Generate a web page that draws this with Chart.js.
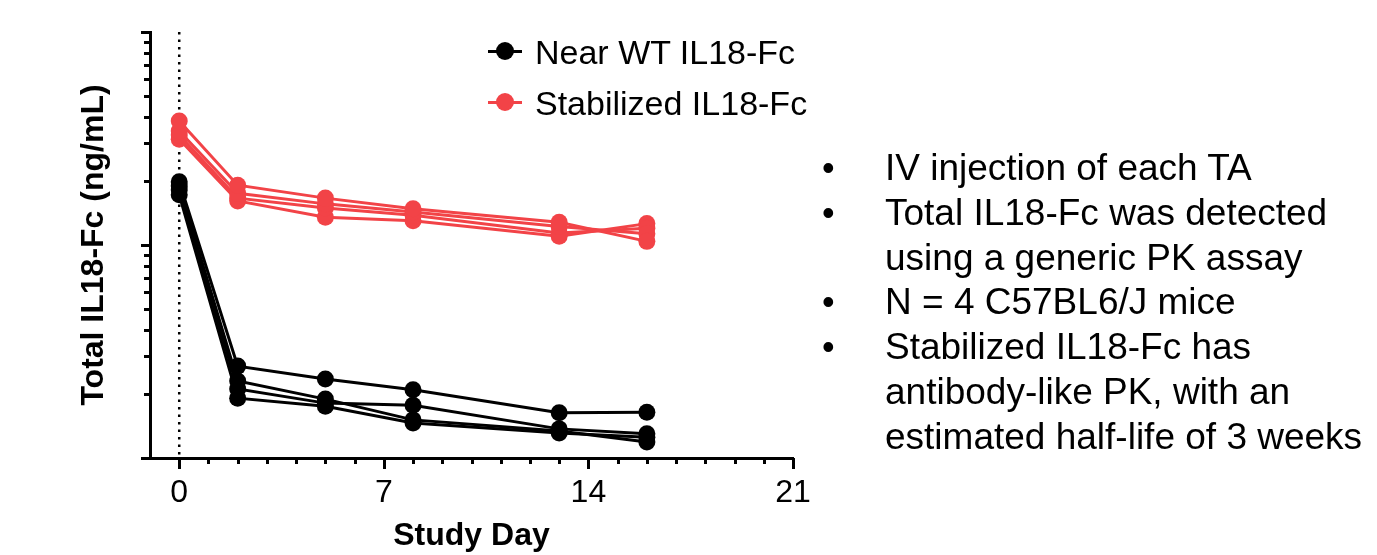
<!DOCTYPE html>
<html>
<head>
<meta charset="utf-8">
<script src="https://cdn.jsdelivr.net/npm/chart.js@4/dist/chart.umd.min.js"></script>
<style>
  body { margin: 0; background: #fff; font-family: "Liberation Sans", Arial, sans-serif; }
  #wrap { position: relative; width: 1377px; height: 555px; }
  #grafico { position: absolute; left: 0; top: 0; }
  .leyenda { position: absolute; left: 486px; font-size: 34px; line-height: 40px; color: #000; }
  .leyenda .linea { position: absolute; left: 2px; top: 18px; width: 34px; height: 3px; }
  .leyenda .punto { position: absolute; left: 10px; top: 10px; width: 18px; height: 18px; border-radius: 50%; }
  .leyenda .texto { position: absolute; left: 49px; top: 0; white-space: nowrap; }
  #notas { position: absolute; left: 822px; top: 146px; font-size: 37px; line-height: 44.8px; color: #000; }
  #notas .item { position: relative; padding-left: 63px; white-space: nowrap; }
  #notas .b { position: absolute; left: 0; top: 0; font-size: 36px; }
</style>
</head>
<body>
<div id="wrap">
  <canvas id="grafico" width="1377" height="555"></canvas>
  <div class="leyenda" style="top:32px">
    <span class="linea" style="background:#000"></span><span class="punto" style="background:#000"></span>
    <span class="texto">Near WT IL18-Fc</span>
  </div>
  <div class="leyenda" style="top:83px">
    <span class="linea" style="background:#f24347"></span><span class="punto" style="background:#f24347"></span>
    <span class="texto">Stabilized IL18-Fc</span>
  </div>
  <div id="notas">
    <div class="item"><span class="b">•</span>IV injection of each TA</div>
    <div class="item"><span class="b">•</span>Total IL18-Fc was detected<br>using a generic PK assay</div>
    <div class="item"><span class="b">•</span>N = 4 C57BL6/J mice</div>
    <div class="item"><span class="b">•</span>Stabilized IL18-Fc has<br>antibody-like PK, with an<br>estimated half-life of 3 weeks</div>
  </div>
</div>
<script>
// Datos (ng/mL) por raton
const dias = [0, 2, 5, 8, 13, 16];
const xTicks = [0, 7, 14, 21];

const nearWt1 = [19800, 2700, 2350, 2090, 1630, 1640];
const nearWt2 = [18900, 2300, 1890, 1510, 1340, 1190];
const nearWt3 = [18100, 2110, 1810, 1770, 1370, 1300];
const nearWt4 = [17200, 1910, 1750, 1460, 1310, 1250];

const estab1 = [38200, 19100, 16600, 14800, 12800, 10400];
const estab2 = [34300, 17500, 15600, 14300, 12200, 11300];
const estab3 = [32800, 16600, 14900, 13800, 11400, 12000];
const estab4 = [31400, 16100, 13500, 13000, 11000, 12600];

const NEGRO = '#000000';
const ROJO = '#f24347';

function serie(valores, color) {
    return {
        data: dias.map((d, i) => ({ x: d, y: valores[i] })),
        borderColor: color,
        backgroundColor: color,
        borderWidth: 3,
        pointRadius: 8.5,
        pointHoverRadius: 8.5,
        pointBorderWidth: 0,
        tension: 0
    };
}

// marcas de los ejes y linea punteada en el dia 0
const marcas = {
    id: 'marcas',
    beforeDatasetsDraw(chart) {
        const ctx = chart.ctx;
        const area = chart.chartArea;
        const x = chart.scales.x;
        const y = chart.scales.y;
        ctx.save();
        ctx.strokeStyle = '#000';
        // linea punteada
        const x0 = x.getPixelForValue(0);
        ctx.lineWidth = 2.5;
        ctx.setLineDash([2.5, 5]);
        ctx.beginPath();
        ctx.moveTo(x0, area.top);
        ctx.lineTo(x0, area.bottom);
        ctx.stroke();
        ctx.setLineDash([]);
        ctx.lineWidth = 3;
        // ticks eje y (log)
        for (let p = 3; p <= 5; p++) {
            for (let m = 1; m <= 9; m++) {
                const v = m * Math.pow(10, p);
                if (v > y.max) break;
                const py = Math.round(y.getPixelForValue(v)) + 0.5;
                const largo = m === 1 ? 9 : 6;
                ctx.beginPath();
                ctx.moveTo(area.left - largo, py);
                ctx.lineTo(area.left, py);
                ctx.stroke();
            }
        }
        // ticks eje x
        for (let d = 0; d <= 21; d++) {
            const px = Math.round(x.getPixelForValue(d)) + 0.5;
            const largo = xTicks.includes(d) ? 11 : 6;
            ctx.beginPath();
            ctx.moveTo(px, area.bottom);
            ctx.lineTo(px, area.bottom + largo);
            ctx.stroke();
        }
        ctx.restore();
    }
};

new Chart(document.getElementById('grafico'), {
    type: 'line',
    data: {
        datasets: [
            serie(nearWt1, NEGRO), serie(nearWt2, NEGRO), serie(nearWt3, NEGRO), serie(nearWt4, NEGRO),
            serie(estab1, ROJO), serie(estab2, ROJO), serie(estab3, ROJO), serie(estab4, ROJO)
        ]
    },
    options: {
        responsive: false,
        animation: false,
        layout: { padding: { top: 32, right: 584, bottom: 0, left: 0 } },
        plugins: { legend: { display: false }, tooltip: { enabled: false } },
        scales: {
            x: {
                type: 'linear',
                min: -1,
                max: 21,
                afterBuildTicks: s => { s.ticks = xTicks.map(v => ({ value: v })); },
                afterFit: s => { s.height = 97; },
                grid: { display: false, drawTicks: false },
                border: { display: true, color: '#000', width: 3 },
                ticks: { color: '#000', padding: 16, font: { family: 'Liberation Sans', size: 32 }, maxRotation: 0 },
                title: { display: true, text: 'Study Day', color: '#000', padding: { top: 0, bottom: 0 },
                         font: { family: 'Liberation Sans', size: 32, weight: 'bold' } }
            },
            y: {
                type: 'logarithmic',
                min: 1000,
                max: 100000,
                afterFit: s => { s.width = 150; },
                grid: { display: false, drawTicks: false },
                border: { display: true, color: '#000', width: 3 },
                ticks: { display: false },
                title: { display: true, text: 'Total IL18-Fc (ng/mL)', color: '#000', padding: { top: 75, bottom: 0 },
                         font: { family: 'Liberation Sans', size: 32, weight: 'bold' } }
            }
        }
    },
    plugins: [marcas]
});
</script>
</body>
</html>
